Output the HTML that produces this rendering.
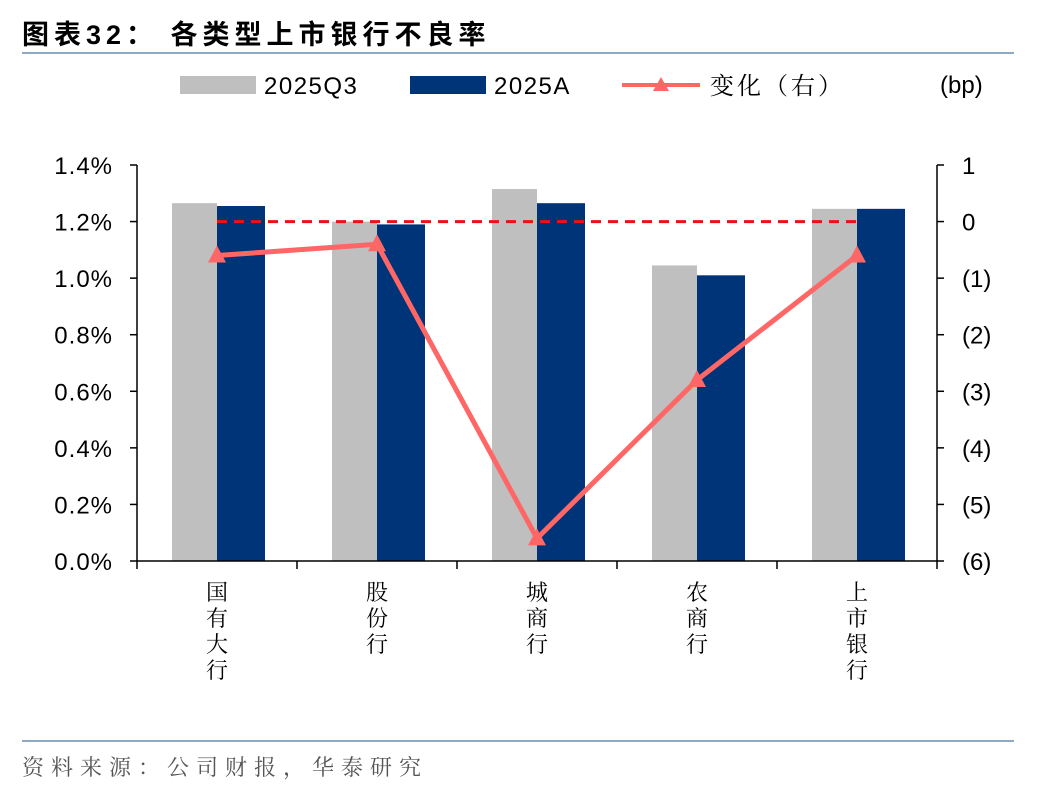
<!DOCTYPE html>
<html><head><meta charset="utf-8"><style>
body{margin:0;background:#fff;width:1048px;height:792px;overflow:hidden;font-family:"Liberation Sans","Noto Sans CJK SC",sans-serif}
</style></head><body>
<svg width="1048" height="792" xmlns="http://www.w3.org/2000/svg">
<text x="22" y="44" font-size="27" font-weight="bold" letter-spacing="5" font-family="Liberation Sans,Noto Sans CJK SC,sans-serif">图表32：  各类型上市银行不良率</text>
<line x1="22" y1="53" x2="1014" y2="53" stroke="#8fa9c4" stroke-width="2"/>
<g font-size="24">
<rect x="180" y="76" width="76" height="18" fill="#bfbfbf"/>
<text x="264" y="94" letter-spacing="1.5">2025Q3</text>
<rect x="410" y="76" width="76" height="18" fill="#003478"/>
<text x="494" y="94" letter-spacing="1.5">2025A</text>
<line x1="622" y1="85" x2="700" y2="85" stroke="#ff6666" stroke-width="4"/>
<polygon points="661,77 669,91 653,91" fill="#ff6666"/>
<text x="710" y="94" letter-spacing="3" font-family="Noto Serif CJK SC,serif">变化（右）</text>
<text x="940" y="93">(bp)</text>
</g>
<g id="plot"></g>
<line x1="22" y1="741" x2="1014" y2="741" stroke="#8fa9c4" stroke-width="2"/>
<text x="22" y="775" font-size="22" letter-spacing="7" fill="#555" font-family="Noto Serif CJK SC,serif">资料来源：公司财报，华泰研究</text>
</svg>
<script>
const categories=["国有大行","股份行","城商行","农商行","上市银行"];
const q3Values=[1.265,1.20,1.315,1.045,1.245];
const aValues=[1.255,1.19,1.265,1.01,1.245];
const changeValues=[-0.6,-0.4,-5.6,-2.8,-0.6];
const leftTicks=["0.0%","0.2%","0.4%","0.6%","0.8%","1.0%","1.2%","1.4%"];
const rightTicks=["(6)","(5)","(4)","(3)","(2)","(1)","0","1"];
const NS="http://www.w3.org/2000/svg";
const g=document.getElementById('plot');
const X0=137,X1=937,Y0=561,Y1=165;
const step=(X1-X0)/categories.length;
const yL=v=>Y0-(v/1.4)*(Y0-Y1);
const yR=v=>Y0-((v+6)/7)*(Y0-Y1);
const cx=i=>X0+step*(i+0.5);
function el(t,a){const e=document.createElementNS(NS,t);for(const k in a)e.setAttribute(k,a[k]);g.appendChild(e);return e;}
categories.forEach((c,i)=>{
 const r1=el('rect',{x:cx(i)-45,y:yL(q3Values[i]),width:45,height:Y0-yL(q3Values[i]),fill:'#bfbfbf'});
 
 
 const r2=el('rect',{x:cx(i),y:yL(aValues[i]),width:48,height:Y0-yL(aValues[i]),fill:'#003478'});
 
 
 const t=el('text',{x:cx(i),'font-size':22,'text-anchor':'middle','font-family':'Noto Serif CJK SC,serif'});
 
 
 [...c].forEach((ch,j)=>{const s=document.createElementNS(NS,'tspan');s.setAttribute('x',cx(i));s.setAttribute('y',600+j*26);s.textContent=ch;t.appendChild(s);});
});
const dash=el('line',{x1:cx(0),x2:cx(4),y1:yR(0),y2:yR(0),stroke:'#ee1111','stroke-width':3,'stroke-dasharray':'10,7'});


const ax=el('path',{d:`M${X0},${Y1}V${Y0}H${X1}V${Y1}`,fill:'none',stroke:'#000','stroke-width':1.5});


for(let i=0;i<=categories.length;i++){const x=X0+step*i;const tk=el('line',{x1:x,x2:x,y1:Y0,y2:Y0+8,stroke:'#000','stroke-width':1.5});}
leftTicks.forEach((s,i)=>{const y=Y0-i*(Y0-Y1)/7;
 const tk=el('line',{x1:X0-7,x2:X0,y1:y,y2:y,stroke:'#000','stroke-width':1.5});
 const t=el('text',{x:X0-24,y:y+9,'font-size':24,'letter-spacing':1,'text-anchor':'end'});t.textContent=s;});
rightTicks.forEach((s,i)=>{const y=Y0-i*(Y0-Y1)/7;
 const tk=el('line',{x1:X1,x2:X1+7,y1:y,y2:y,stroke:'#000','stroke-width':1.5});
 const t=el('text',{x:X1+25,y:y+9,'font-size':24});t.textContent=s;});
const pts=changeValues.map((v,i)=>cx(i)+','+yR(v)).join(' ');
const pl=el('polyline',{points:pts,fill:'none',stroke:'#ff6666','stroke-width':5,'stroke-linejoin':'round'});


changeValues.forEach((v,i)=>{const x=cx(i),y=yR(v);
 const m=el('polygon',{points:`${x},${y-10} ${x+9},${y+7} ${x-9},${y+7}`,fill:'#ff6666'});
 
 });
</script>
</body></html>
